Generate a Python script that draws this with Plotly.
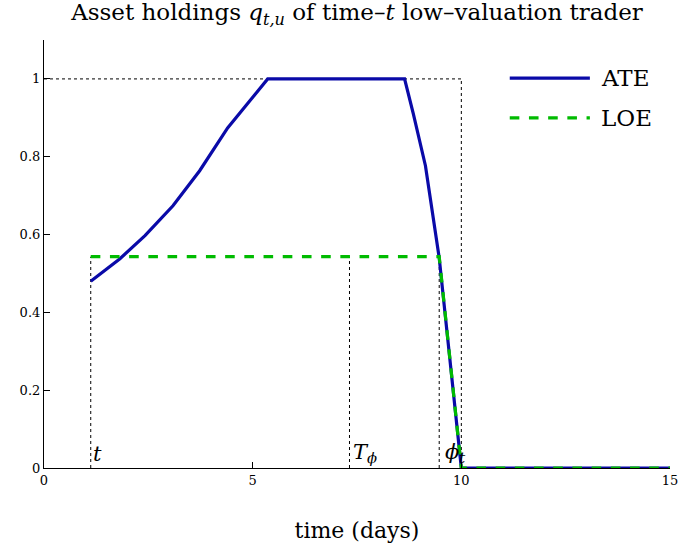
import plotly.graph_objects as go

# ---- data ----
ate_x = [1.12, 1.82, 2.42, 3.09, 3.73, 4.40, 5.36, 8.64, 8.85, 9.14, 9.47, 10.0, 15.0]
ate_y = [0.48, 0.538, 0.597, 0.674, 0.764, 0.874, 1.0, 1.0, 0.91, 0.777, 0.54, 0.0, 0.0]
loe_x = [1.12, 9.47, 10.0, 15.0]
loe_y = [0.543, 0.543, 0.0, 0.0]

t0 = 1.12
T_phi = 7.32
phi_t = 9.47
t_end = 10.0
loe_level = 0.543

x_ticks = [0, 5, 10, 15]
y_ticks = [0, 0.2, 0.4, 0.6, 0.8, 1]
y_tick_labels = ["0", "0.2", "0.4", "0.6", "0.8", "1"]

FONT = "DejaVu Serif"
BLUE = "#0a0aa8"
GREEN = "#00bb00"

fig = go.Figure()
fig.add_trace(go.Scatter(x=ate_x, y=ate_y, mode="lines", name="ATE",
                         line=dict(color=BLUE, width=3.2)))
fig.add_trace(go.Scatter(x=loe_x, y=loe_y, mode="lines", name="LOE",
                         line=dict(color=GREEN, width=3.2, dash="dash")))

dot = dict(color="black", width=1, dash="dot")
shapes = [
    dict(type="line", xref="x", yref="y", x0=t0, x1=t0, y0=0, y1=loe_level, line=dot, layer="below"),
    dict(type="line", xref="x", yref="y", x0=T_phi, x1=T_phi, y0=0, y1=loe_level, line=dot, layer="below"),
    dict(type="line", xref="x", yref="y", x0=phi_t, x1=phi_t, y0=0, y1=loe_level, line=dot, layer="below"),
    dict(type="line", xref="x", yref="y", x0=t_end, x1=t_end, y0=0, y1=1, line=dot, layer="below"),
    dict(type="line", xref="x", yref="y", x0=0, x1=t_end, y0=1, y1=1, line=dot, layer="below"),
    # manual legend
    dict(type="line", xref="paper", yref="paper", x0=0.744, x1=0.872, y0=0.911, y1=0.911,
         line=dict(color=BLUE, width=3.2)),
    dict(type="line", xref="paper", yref="paper", x0=0.744, x1=0.872, y0=0.818, y1=0.818,
         line=dict(color=GREEN, width=3.2, dash="dash")),
]

annotations = [
    dict(x=t0, y=0.0, xref="x", yref="y", text="<i>t</i>", showarrow=False,
         xanchor="left", yanchor="bottom", font=dict(family=FONT, size=21, color="black")),
    dict(x=T_phi + 0.03, y=0.0, xref="x", yref="y", text="<i>T</i><sub><i>ϕ</i></sub>", showarrow=False,
         xanchor="left", yanchor="bottom", font=dict(family=FONT, size=21, color="black")),
    dict(x=phi_t + 0.08, y=0.0, xref="x", yref="y", text="<i>ϕ</i><sub><i>t</i></sub>", showarrow=False,
         xanchor="left", yanchor="bottom", font=dict(family=FONT, size=21, color="black")),
    dict(x=0.886, y=0.911, xref="paper", yref="paper", text="ATE", showarrow=False,
         xanchor="left", yanchor="middle", font=dict(family=FONT, size=23, color="black")),
    dict(x=0.886, y=0.818, xref="paper", yref="paper", text="LOE", showarrow=False,
         xanchor="left", yanchor="middle", font=dict(family=FONT, size=23, color="black")),
]

fig.update_layout(
    width=682, height=550,
    margin=dict(l=44, r=12, t=40, b=82, autoexpand=False),
    paper_bgcolor="white", plot_bgcolor="white",
    showlegend=False,
    font=dict(family=FONT, color="black"),
    title=dict(text="Asset holdings <i>q</i><sub><i>t,u</i></sub> of time–<i>t</i> low–valuation trader",
               x=0.5, xanchor="center", xref="paper", y=1 - 12 / 550, yref="container", yanchor="middle",
               font=dict(family=FONT, size=23, color="black")),
    shapes=shapes,
    annotations=annotations,
)
fig.update_xaxes(range=[0, 15], tickvals=x_ticks, ticktext=[str(v) for v in x_ticks],
                 ticks="inside", ticklen=6, tickcolor="black", showgrid=False, zeroline=False,
                 showline=True, linecolor="black", linewidth=1.2, automargin=False,
                 tickfont=dict(family=FONT, size=13, color="black"),
                 title=dict(text="time (days)", font=dict(family=FONT, size=22, color="black"), standoff=35))
fig.update_yaxes(range=[0, 1.1], tickvals=y_ticks, ticktext=y_tick_labels,
                 ticks="inside", ticklen=6, tickcolor="black", showgrid=False, zeroline=False,
                 showline=True, linecolor="black", linewidth=1.2, automargin=False,
                 tickfont=dict(family=FONT, size=13, color="black"))

fig.write_html("out.html", config={"displayModeBar": False},
               post_script="document.body.style.margin='0';")
